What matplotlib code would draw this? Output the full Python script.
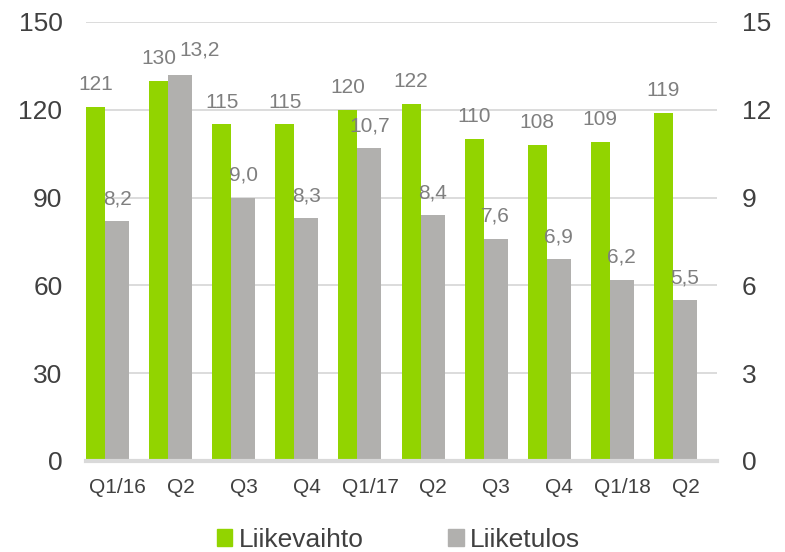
import matplotlib.pyplot as plt
from matplotlib.patches import Patch
import numpy as np

plt.rcParams['font.family'] = ['Liberation Sans', 'DejaVu Sans']

# --- data ---
quarters = ['Q1/16', 'Q2', 'Q3', 'Q4', 'Q1/17', 'Q2', 'Q3', 'Q4', 'Q1/18', 'Q2']
liikevaihto = [121, 130, 115, 115, 120, 122, 110, 108, 109, 119]
liiketulos = [8.2, 13.2, 9.0, 8.3, 10.7, 8.4, 7.6, 6.9, 6.2, 5.5]

green = '#92d400'
grey = '#b1b0ae'
text_dark = '#404040'
label_grey = '#7f7f7f'
grid_col = '#d9d9d9'

fig = plt.figure(figsize=(7.85, 5.52), dpi=100)
ax = fig.add_axes([0.1096, 0.1649, 0.8038, 0.7953])
ax2 = ax.twinx()

x = np.arange(len(quarters))
w_green = 19 / 63
w_grey = 24 / 63

ax.bar(x - 0.5, liikevaihto, width=w_green, align='edge', color=green, zorder=3)
ax2.bar(x - 0.5 + w_green, liiketulos, width=w_grey, align='edge', color=grey, zorder=3)

ax.set_xlim(-0.5, len(quarters) - 0.5)
ax.set_ylim(0, 150)
ax2.set_ylim(0, 15)
ax.set_yticks([0, 30, 60, 90, 120, 150])
ax2.set_yticks([0, 3, 6, 9, 12, 15])

# gridlines and baseline
for v in [30, 60, 90, 120, 150]:
    ax.axhline(v, color=grid_col, lw=1.3, zorder=0)
ax2.axhline(0, color=grid_col, lw=3, zorder=5, clip_on=False)

for a in (ax, ax2):
    for s in a.spines.values():
        s.set_visible(False)
    a.tick_params(length=0, labelsize=19, colors=text_dark)
ax.tick_params(axis='y', pad=17)
ax2.tick_params(axis='y', pad=18)

ax.set_xticks(x)
ax.set_xticklabels(quarters)
ax.tick_params(axis='x', labelsize=15, pad=12)

# value labels
def fmt(v):
    return f'{v:.1f}'.replace('.', ',')

for i, v in enumerate(liikevaihto):
    ax.annotate(str(v), (i - 0.5 + w_green / 2, v), xytext=(0, 12),
                textcoords='offset points', ha='center', va='baseline',
                fontsize=15, color=label_grey, zorder=6)

for i, v in enumerate(liiketulos):
    dx, dy = (0, 12)
    if i == 1:
        dx, dy = (14, 14)
    ax2.annotate(fmt(v), (i - 0.5 + w_green + w_grey / 2, v), xytext=(dx, dy),
                 textcoords='offset points', ha='center', va='baseline',
                 fontsize=15, color=label_grey, zorder=6)

handles = [Patch(color=green, label='Liikevaihto'),
           Patch(color=grey, label='Liiketulos')]
fig.legend(handles=handles, loc='center', bbox_to_anchor=(0.508, 0.022),
           ncol=2, frameon=False, fontsize=19, handlelength=0.58,
           handleheight=0.58, handletextpad=0.25, columnspacing=3.2,
           labelcolor=text_dark)

fig.savefig('out.png', dpi=100)
